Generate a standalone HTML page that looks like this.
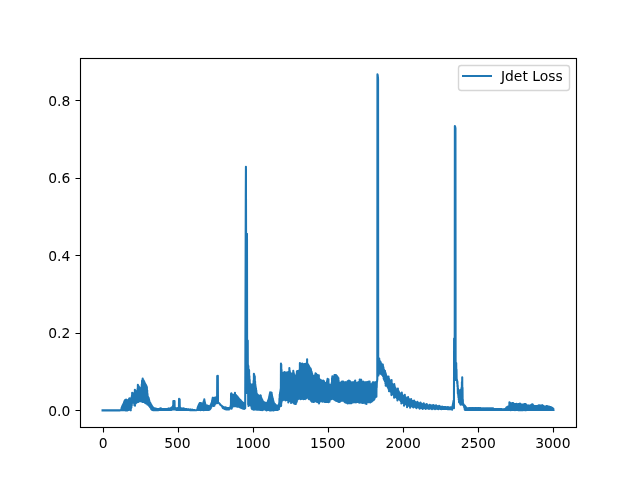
<!DOCTYPE html>
<html><head><meta charset="utf-8"><title>Jdet Loss</title>
<style>html,body{margin:0;padding:0;background:#fff;width:640px;height:480px;overflow:hidden}svg{display:block}text{filter:grayscale(1)}</style>
</head><body>
<svg width="640" height="480" viewBox="0 0 640 480">
<rect x="0" y="0" width="640" height="480" fill="#fff"/>
<clipPath id="c"><rect x="80" y="57.6" width="496" height="369.6"/></clipPath>
<path d="M102.55 410.40 L102.70 410.40 L102.85 410.40 L103.00 410.40 L103.15 410.40 L103.30 410.40 L103.45 410.40 L103.60 410.40 L103.75 410.40 L103.90 410.40 L104.05 410.40 L104.20 410.40 L104.35 410.40 L104.50 410.40 L104.65 410.40 L104.80 410.40 L104.95 410.40 L105.10 410.40 L105.25 410.40 L105.40 410.40 L105.55 410.40 L105.70 410.40 L105.85 410.40 L106.00 410.40 L106.15 410.40 L106.30 410.40 L106.45 410.40 L106.60 410.40 L106.75 410.40 L106.90 410.40 L107.05 410.40 L107.20 410.40 L107.36 410.40 L107.51 410.40 L107.66 410.40 L107.81 410.40 L107.96 410.40 L108.11 410.40 L108.26 410.40 L108.41 410.40 L108.56 410.40 L108.71 410.40 L108.86 410.40 L109.01 410.40 L109.16 410.40 L109.31 410.40 L109.46 410.40 L109.61 410.40 L109.76 410.40 L109.91 410.40 L110.06 410.40 L110.21 410.40 L110.36 410.40 L110.51 410.40 L110.66 410.40 L110.81 410.40 L110.96 410.40 L111.11 410.40 L111.26 410.40 L111.41 410.40 L111.56 410.40 L111.71 410.40 L111.86 410.40 L112.01 410.40 L112.16 410.40 L112.32 410.40 L112.47 410.40 L112.62 410.40 L112.77 410.40 L112.92 410.40 L113.07 410.40 L113.22 410.40 L113.37 410.40 L113.52 410.40 L113.67 410.40 L113.82 410.40 L113.97 410.40 L114.12 410.40 L114.27 410.40 L114.42 410.40 L114.57 410.40 L114.72 410.40 L114.87 410.40 L115.02 410.40 L115.17 410.40 L115.32 410.40 L115.47 410.40 L115.62 410.40 L115.77 410.40 L115.92 410.40 L116.07 410.40 L116.22 410.40 L116.37 410.40 L116.52 410.40 L116.67 410.40 L116.82 410.40 L116.97 410.40 L117.12 410.40 L117.28 410.40 L117.43 410.40 L117.58 410.40 L117.73 410.40 L117.88 410.40 L118.03 410.40 L118.18 410.40 L118.33 410.40 L118.48 410.40 L118.63 410.40 L118.78 410.40 L118.93 410.40 L119.08 410.40 L119.23 410.40 L119.38 410.40 L119.53 410.40 L119.68 410.40 L119.83 410.40 L119.98 410.38 L120.13 410.34 L120.28 410.30 L120.43 410.27 L120.58 410.24 L120.73 410.21 L120.88 410.16 L121.03 409.98 L121.18 410.16 L121.33 409.07 L121.48 410.16 L121.63 407.82 L121.78 410.16 L121.93 407.08 L122.08 410.15 L122.24 406.36 L122.39 410.07 L122.54 405.66 L122.69 410.10 L122.84 405.12 L122.99 410.17 L123.14 404.60 L123.29 410.06 L123.44 403.90 L123.59 410.15 L123.74 403.19 L123.89 410.23 L124.04 402.38 L124.19 410.09 L124.34 401.58 L124.49 409.90 L124.64 400.86 L124.79 410.20 L124.94 400.34 L125.09 410.24 L125.24 400.04 L125.39 410.34 L125.54 399.90 L125.69 410.06 L125.84 400.11 L125.99 410.40 L126.14 399.74 L126.29 410.40 L126.44 399.84 L126.59 410.40 L126.74 399.94 L126.89 410.40 L127.04 400.05 L127.20 410.36 L127.35 400.18 L127.50 410.40 L127.65 400.18 L127.80 410.29 L127.95 400.11 L128.10 410.00 L128.25 400.17 L128.40 410.06 L128.55 399.84 L128.70 409.79 L128.85 399.23 L129.00 409.89 L129.15 398.89 L129.30 409.84 L129.45 398.32 L129.60 409.42 L129.75 398.58 L129.90 409.60 L130.05 398.65 L130.20 409.84 L130.35 398.55 L130.50 409.80 L130.65 398.40 L130.80 410.35 L130.95 398.58 L131.10 408.25 L131.25 398.08 L131.40 407.46 L131.55 397.43 L131.70 405.76 L131.85 396.03 L132.00 403.99 L132.16 392.71 L132.31 402.93 L132.46 393.24 L132.61 402.49 L132.76 393.50 L132.91 402.61 L133.06 393.30 L133.21 402.50 L133.36 393.66 L133.51 402.29 L133.66 393.59 L133.81 402.60 L133.96 393.68 L134.11 402.66 L134.26 393.25 L134.41 405.35 L134.56 392.85 L134.71 405.28 L134.86 389.67 L135.01 405.74 L135.16 390.34 L135.31 403.91 L135.46 390.91 L135.61 403.19 L135.76 391.15 L135.91 403.33 L136.06 391.02 L136.21 402.98 L136.36 391.49 L136.51 402.64 L136.66 391.16 L136.81 401.97 L136.96 391.41 L137.12 401.21 L137.27 391.03 L137.42 401.20 L137.57 388.82 L137.72 401.35 L137.87 384.87 L138.02 401.62 L138.17 385.69 L138.32 401.92 L138.47 386.13 L138.62 401.59 L138.77 386.65 L138.92 401.10 L139.07 386.94 L139.22 400.77 L139.37 387.47 L139.52 400.88 L139.67 388.00 L139.82 401.03 L139.97 388.53 L140.12 401.33 L140.27 388.35 L140.42 400.97 L140.57 388.54 L140.72 401.14 L140.87 388.34 L141.02 401.18 L141.17 388.60 L141.32 401.30 L141.47 386.93 L141.62 401.43 L141.77 384.25 L141.92 401.57 L142.08 380.46 L142.23 401.58 L142.38 380.38 L142.53 401.98 L142.68 378.63 L142.83 401.87 L142.98 380.09 L143.13 401.64 L143.28 380.12 L143.43 401.64 L143.58 380.59 L143.73 401.68 L143.88 381.03 L144.03 401.73 L144.18 381.58 L144.33 401.94 L144.48 382.39 L144.63 402.34 L144.78 382.94 L144.93 402.86 L145.08 383.51 L145.23 402.91 L145.38 384.15 L145.53 403.14 L145.68 384.80 L145.83 403.01 L145.98 384.99 L146.13 403.47 L146.28 385.88 L146.43 403.54 L146.58 386.39 L146.73 403.31 L146.88 387.15 L147.04 403.92 L147.19 390.22 L147.34 404.45 L147.49 393.81 L147.64 404.39 L147.79 396.35 L147.94 404.65 L148.09 396.94 L148.24 405.00 L148.39 397.46 L148.54 405.13 L148.69 398.02 L148.84 405.70 L148.99 399.29 L149.14 406.04 L149.29 400.50 L149.44 406.30 L149.59 401.68 L149.74 406.79 L149.89 402.44 L150.04 407.13 L150.19 402.84 L150.34 407.56 L150.49 403.37 L150.64 407.95 L150.79 403.94 L150.94 408.52 L151.09 404.49 L151.24 409.15 L151.39 405.04 L151.54 409.54 L151.69 405.56 L151.84 409.71 L152.00 406.14 L152.15 409.88 L152.30 406.63 L152.45 410.01 L152.60 407.07 L152.75 410.06 L152.90 407.34 L153.05 410.11 L153.20 407.62 L153.35 410.16 L153.50 407.90 L153.65 410.16 L153.80 408.18 L153.95 410.16 L154.10 408.45 L154.25 410.16 L154.40 408.60 L154.55 410.16 L154.70 408.65 L154.85 410.16 L155.00 408.70 L155.15 410.16 L155.30 408.75 L155.45 410.16 L155.60 408.80 L155.75 410.16 L155.90 408.85 L156.05 410.16 L156.20 408.90 L156.35 410.16 L156.50 408.94 L156.65 410.16 L156.80 408.99 L156.96 410.16 L157.11 409.04 L157.26 410.16 L157.41 409.09 L157.56 410.16 L157.71 409.14 L157.86 410.15 L158.01 409.12 L158.16 410.12 L158.31 409.08 L158.46 410.10 L158.61 409.04 L158.76 410.07 L158.91 409.00 L159.06 410.04 L159.21 408.96 L159.36 410.01 L159.51 408.92 L159.66 409.99 L159.81 408.88 L159.96 409.96 L160.11 408.85 L160.26 409.96 L160.41 408.86 L160.56 409.96 L160.71 408.88 L160.86 409.96 L161.01 408.89 L161.16 409.96 L161.31 408.90 L161.46 409.96 L161.61 408.92 L161.76 409.96 L161.92 408.93 L162.07 409.96 L162.22 408.95 L162.37 409.96 L162.52 408.96 L162.67 409.96 L162.82 408.98 L162.97 409.96 L163.12 408.99 L163.27 409.96 L163.42 409.01 L163.57 409.96 L163.72 409.02 L163.87 409.96 L164.02 409.04 L164.17 409.96 L164.32 409.05 L164.47 409.96 L164.62 409.06 L164.77 409.96 L164.92 409.08 L165.07 409.96 L165.22 409.09 L165.37 409.96 L165.52 409.11 L165.67 409.96 L165.82 409.12 L165.97 409.96 L166.12 409.14 L166.27 409.96 L166.42 409.12 L166.57 409.96 L166.72 409.08 L166.88 409.96 L167.03 409.04 L167.18 409.96 L167.33 409.00 L167.48 409.96 L167.63 408.96 L167.78 409.96 L167.93 408.92 L168.08 409.96 L168.23 408.88 L168.38 409.96 L168.53 408.84 L168.68 409.96 L168.83 408.80 L168.98 409.96 L169.13 408.76 L169.28 409.96 L169.43 408.72 L169.58 409.96 L169.73 408.68 L169.88 409.96 L170.03 408.64 L170.18 409.90 L170.33 408.59 L170.48 409.86 L170.63 408.43 L170.78 409.86 L170.93 408.08 L171.08 409.86 L171.23 407.70 L171.38 409.86 L171.53 407.55 L171.68 409.79 L171.84 407.40 L171.99 409.60 L172.14 407.24 L172.29 409.48 L172.44 407.09 L172.59 409.46 L172.74 406.82 L172.89 409.46 L173.04 405.42 L173.19 409.46 L173.34 401.02 L173.49 409.26 L173.64 401.14 L173.79 409.39 L173.94 401.05 L174.09 409.16 L174.24 401.42 L174.39 409.30 L174.54 401.10 L174.69 409.46 L174.84 407.91 L174.99 409.46 L175.14 408.13 L175.29 409.46 L175.44 408.24 L175.59 409.54 L175.74 408.32 L175.89 409.72 L176.04 408.41 L176.19 409.86 L176.34 408.49 L176.49 409.86 L176.64 408.58 L176.80 409.86 L176.95 408.64 L177.10 409.86 L177.25 408.64 L177.40 409.86 L177.55 408.64 L177.70 409.86 L177.85 408.64 L178.00 409.86 L178.15 408.63 L178.30 409.86 L178.45 408.54 L178.60 409.86 L178.75 408.32 L178.90 409.86 L179.05 398.90 L179.20 409.73 L179.35 399.82 L179.50 409.28 L179.65 399.30 L179.80 409.83 L179.95 407.05 L180.10 409.86 L180.25 407.92 L180.40 409.86 L180.55 408.14 L180.70 409.86 L180.85 408.25 L181.00 409.86 L181.15 408.35 L181.30 409.88 L181.45 408.45 L181.60 409.91 L181.76 408.55 L181.91 409.93 L182.06 408.63 L182.21 409.96 L182.36 408.67 L182.51 409.96 L182.66 408.70 L182.81 409.97 L182.96 408.74 L183.11 409.97 L183.26 408.78 L183.41 409.98 L183.56 408.81 L183.71 409.98 L183.86 408.85 L184.01 409.99 L184.16 408.89 L184.31 409.99 L184.46 408.92 L184.61 409.99 L184.76 408.96 L184.91 410.00 L185.06 408.99 L185.21 410.00 L185.36 409.03 L185.51 410.01 L185.66 409.07 L185.81 410.01 L185.96 409.10 L186.11 410.02 L186.26 409.14 L186.41 410.02 L186.56 409.18 L186.72 410.02 L186.87 409.21 L187.02 410.03 L187.17 409.25 L187.32 410.03 L187.47 409.29 L187.62 410.04 L187.77 409.32 L187.92 410.04 L188.07 409.36 L188.22 410.05 L188.37 409.40 L188.52 410.05 L188.67 409.43 L188.82 410.05 L188.97 409.47 L189.12 410.06 L189.27 409.51 L189.42 410.06 L189.57 409.54 L189.72 410.07 L189.87 409.58 L190.02 410.07 L190.17 409.62 L190.32 410.08 L190.47 409.65 L190.62 410.08 L190.77 409.69 L190.92 410.08 L191.07 409.73 L191.22 410.09 L191.37 409.76 L191.52 410.09 L191.68 409.80 L191.83 410.10 L191.98 409.83 L192.13 410.10 L192.28 409.87 L192.43 410.11 L192.58 409.91 L192.73 410.11 L192.88 409.94 L193.03 410.11 L193.18 409.98 L193.33 410.12 L193.48 410.02 L193.63 410.12 L193.78 410.05 L193.93 410.13 L194.08 410.09 L194.23 410.13 L194.38 410.13 L194.53 410.14 L194.68 410.15 L194.83 410.16 L194.98 410.17 L195.13 410.18 L195.28 410.19 L195.43 410.20 L195.58 410.21 L195.73 410.22 L195.88 410.23 L196.03 410.24 L196.18 410.21 L196.33 410.18 L196.48 410.14 L196.64 410.10 L196.79 410.06 L196.94 410.00 L197.09 409.85 L197.24 409.96 L197.39 408.81 L197.54 409.96 L197.69 407.55 L197.84 409.96 L197.99 406.75 L198.14 409.94 L198.29 406.00 L198.44 409.96 L198.59 405.23 L198.74 410.00 L198.89 404.71 L199.04 410.01 L199.19 403.95 L199.34 409.96 L199.49 403.50 L199.64 410.04 L199.79 403.14 L199.94 410.08 L200.09 403.31 L200.24 410.00 L200.39 403.13 L200.54 410.17 L200.69 403.23 L200.84 410.04 L200.99 403.14 L201.14 409.98 L201.29 403.48 L201.44 409.92 L201.60 403.70 L201.75 409.98 L201.90 403.80 L202.05 409.78 L202.20 403.87 L202.35 409.95 L202.50 403.69 L202.65 410.01 L202.80 403.64 L202.95 409.91 L203.10 403.16 L203.25 409.95 L203.40 402.36 L203.55 410.33 L203.70 401.33 L203.85 410.17 L204.00 400.72 L204.15 410.06 L204.30 399.33 L204.45 409.57 L204.60 400.90 L204.75 409.84 L204.90 402.25 L205.05 409.97 L205.20 403.63 L205.35 409.83 L205.50 404.78 L205.65 409.95 L205.80 405.28 L205.95 409.89 L206.10 405.50 L206.25 409.91 L206.40 405.54 L206.56 409.99 L206.71 405.63 L206.86 409.91 L207.01 405.68 L207.16 409.95 L207.31 405.71 L207.46 409.94 L207.61 405.80 L207.76 409.89 L207.91 405.88 L208.06 409.97 L208.21 405.97 L208.36 409.98 L208.51 406.03 L208.66 409.97 L208.81 406.14 L208.96 409.93 L209.11 406.31 L209.26 409.76 L209.41 406.33 L209.56 409.55 L209.71 406.30 L209.86 409.36 L210.01 406.15 L210.16 409.09 L210.31 405.80 L210.46 408.65 L210.61 405.13 L210.76 408.21 L210.91 404.42 L211.06 407.63 L211.21 403.71 L211.36 407.05 L211.52 402.95 L211.67 406.52 L211.82 402.20 L211.97 406.07 L212.12 400.50 L212.27 405.80 L212.42 399.11 L212.57 405.79 L212.72 397.73 L212.87 405.51 L213.02 397.76 L213.17 405.84 L213.32 397.94 L213.47 405.70 L213.62 397.97 L213.77 405.94 L213.92 398.00 L214.07 405.84 L214.22 398.07 L214.37 405.68 L214.52 397.90 L214.67 405.02 L214.82 397.86 L214.97 404.36 L215.12 398.00 L215.27 403.73 L215.42 397.64 L215.57 403.23 L215.72 397.54 L215.87 403.13 L216.02 397.32 L216.17 403.09 L216.32 397.31 L216.48 403.02 L216.63 397.34 L216.78 402.99 L216.93 397.00 L217.08 403.30 L217.23 375.97 L217.38 375.94 L217.53 383.70 L217.68 402.47 L217.83 375.69 L217.98 402.37 L218.13 402.23 L218.28 402.44 L218.43 402.61 L218.58 402.79 L218.73 402.97 L218.88 403.11 L219.03 403.21 L219.18 403.31 L219.33 403.44 L219.48 403.58 L219.63 403.77 L219.78 403.97 L219.93 404.17 L220.08 404.37 L220.23 404.57 L220.38 404.76 L220.53 404.92 L220.68 405.04 L220.83 405.16 L220.98 405.28 L221.13 405.40 L221.28 405.52 L221.44 405.64 L221.59 405.76 L221.74 405.88 L221.89 406.06 L222.04 406.23 L222.19 406.63 L222.34 406.38 L222.49 407.31 L222.64 406.53 L222.79 407.99 L222.94 406.68 L223.09 408.17 L223.24 406.83 L223.39 408.25 L223.54 406.98 L223.69 408.34 L223.84 407.13 L223.99 408.50 L224.14 407.28 L224.29 408.67 L224.44 407.36 L224.59 408.85 L224.74 407.43 L224.89 409.02 L225.04 407.51 L225.19 409.10 L225.34 407.58 L225.49 409.18 L225.64 407.66 L225.79 409.25 L225.94 407.73 L226.09 409.33 L226.24 407.81 L226.40 409.40 L226.55 407.88 L226.70 409.48 L226.85 407.94 L227.00 409.55 L227.15 407.94 L227.30 409.56 L227.45 407.94 L227.60 409.56 L227.75 407.94 L227.90 409.56 L228.05 407.94 L228.20 409.56 L228.35 407.94 L228.50 409.56 L228.65 407.94 L228.80 409.56 L228.95 407.94 L229.10 409.40 L229.25 407.94 L229.40 408.78 L229.55 407.91 L229.70 408.45 L229.85 407.78 L230.00 408.30 L230.15 407.50 L230.30 408.26 L230.45 406.56 L230.60 408.26 L230.75 405.31 L230.90 408.25 L231.05 393.71 L231.20 408.51 L231.36 393.38 L231.51 408.64 L231.66 394.52 L231.81 408.47 L231.96 394.34 L232.11 407.52 L232.26 394.94 L232.41 407.08 L232.56 394.59 L232.71 406.60 L232.86 395.02 L233.01 406.40 L233.16 395.17 L233.31 406.24 L233.46 394.94 L233.61 406.25 L233.76 395.16 L233.91 405.93 L234.06 394.62 L234.21 406.18 L234.36 394.69 L234.51 405.93 L234.66 394.47 L234.81 405.99 L234.96 392.83 L235.11 405.92 L235.26 394.84 L235.41 406.27 L235.56 394.88 L235.71 406.31 L235.86 395.15 L236.01 406.12 L236.16 395.26 L236.32 406.10 L236.47 395.75 L236.62 406.46 L236.77 396.00 L236.92 406.61 L237.07 396.38 L237.22 406.74 L237.37 396.54 L237.52 406.39 L237.67 397.34 L237.82 406.51 L237.97 397.29 L238.12 406.53 L238.27 397.86 L238.42 406.67 L238.57 398.31 L238.72 406.81 L238.87 398.56 L239.02 406.82 L239.17 398.98 L239.32 407.05 L239.47 399.19 L239.62 407.20 L239.77 399.66 L239.92 407.18 L240.07 399.77 L240.22 407.51 L240.37 400.13 L240.52 407.55 L240.67 400.40 L240.82 407.68 L240.97 400.74 L241.12 407.89 L241.28 401.21 L241.43 408.00 L241.58 401.42 L241.73 408.02 L241.88 401.84 L242.03 408.19 L242.18 401.99 L242.33 408.48 L242.48 402.35 L242.63 408.44 L242.78 402.46 L242.93 408.53 L243.08 402.88 L243.23 408.65 L243.38 403.07 L243.53 408.71 L243.68 403.42 L243.83 408.76 L243.98 403.66 L244.13 409.00 L244.28 403.73 L244.43 407.62 L244.58 403.72 L244.73 406.95 L244.88 403.62 L245.03 408.00 L245.18 408.30 L245.33 371.65 L245.48 313.51 L245.63 255.38 L245.78 197.25 L245.93 166.83 L246.08 236.01 L246.24 393.00 L246.39 390.00 L246.54 393.00 L246.69 390.00 L246.84 392.00 L246.99 233.82 L247.14 372.00 L247.29 388.00 L247.44 364.49 L247.59 388.00 L247.74 340.49 L247.89 390.00 L248.04 364.99 L248.19 404.50 L248.34 366.00 L248.49 406.00 L248.64 404.31 L248.79 369.47 L248.94 404.67 L249.09 370.15 L249.24 404.93 L249.39 376.05 L249.54 405.20 L249.69 379.81 L249.84 405.28 L249.99 383.37 L250.14 404.90 L250.29 383.89 L250.44 404.86 L250.59 384.12 L250.74 404.64 L250.89 384.47 L251.04 405.60 L251.20 384.53 L251.35 406.88 L251.50 384.79 L251.65 408.27 L251.80 385.42 L251.95 409.03 L252.10 385.56 L252.25 409.29 L252.40 385.00 L252.55 409.19 L252.70 384.67 L252.85 409.26 L253.00 384.07 L253.15 409.23 L253.30 383.72 L253.45 409.33 L253.60 380.70 L253.75 409.79 L253.90 373.86 L254.05 409.79 L254.20 374.71 L254.35 409.39 L254.50 375.68 L254.65 409.35 L254.80 376.62 L254.95 409.55 L255.10 381.48 L255.25 409.37 L255.40 384.74 L255.55 409.37 L255.70 386.89 L255.85 409.39 L256.00 388.48 L256.16 409.18 L256.31 390.51 L256.46 409.16 L256.61 393.10 L256.76 409.67 L256.91 394.28 L257.06 409.55 L257.21 394.77 L257.36 409.58 L257.51 395.10 L257.66 409.75 L257.81 394.85 L257.96 409.50 L258.11 395.31 L258.26 409.42 L258.41 395.60 L258.56 409.60 L258.71 395.69 L258.86 409.81 L259.01 396.25 L259.16 409.52 L259.31 396.27 L259.46 409.74 L259.61 396.28 L259.76 409.73 L259.91 395.54 L260.06 409.90 L260.21 395.63 L260.36 410.00 L260.51 395.41 L260.66 409.96 L260.81 395.82 L260.96 409.71 L261.12 397.56 L261.27 409.78 L261.42 398.15 L261.57 409.79 L261.72 399.01 L261.87 410.03 L262.02 399.41 L262.17 410.15 L262.32 400.02 L262.47 409.83 L262.62 400.48 L262.77 409.92 L262.92 401.22 L263.07 409.65 L263.22 401.67 L263.37 409.63 L263.52 402.35 L263.67 409.56 L263.82 402.32 L263.97 409.44 L264.12 402.50 L264.27 409.54 L264.42 402.32 L264.57 409.36 L264.72 402.45 L264.87 409.37 L265.02 402.65 L265.17 409.56 L265.32 402.85 L265.47 409.73 L265.62 402.89 L265.77 409.75 L265.92 402.94 L266.08 410.11 L266.23 403.15 L266.38 410.02 L266.53 403.07 L266.68 410.40 L266.83 402.97 L266.98 410.20 L267.13 402.99 L267.28 409.99 L267.43 402.40 L267.58 409.84 L267.73 401.88 L267.88 409.61 L268.03 400.89 L268.18 409.75 L268.33 399.94 L268.48 409.85 L268.63 399.24 L268.78 409.89 L268.93 398.10 L269.08 410.06 L269.23 396.60 L269.38 409.75 L269.53 395.03 L269.68 410.40 L269.83 393.73 L269.98 410.40 L270.13 392.38 L270.28 410.16 L270.43 392.69 L270.58 410.26 L270.73 392.42 L270.88 410.27 L271.04 392.70 L271.19 410.40 L271.34 392.58 L271.49 410.03 L271.64 392.80 L271.79 409.65 L271.94 394.80 L272.09 409.81 L272.24 396.46 L272.39 410.00 L272.54 397.68 L272.69 410.06 L272.84 398.63 L272.99 410.40 L273.14 400.12 L273.29 410.40 L273.44 401.21 L273.59 410.40 L273.74 402.18 L273.89 410.34 L274.04 403.17 L274.19 410.28 L274.34 403.44 L274.49 410.04 L274.64 403.74 L274.79 410.07 L274.94 404.12 L275.09 409.94 L275.24 404.42 L275.39 410.02 L275.54 404.87 L275.69 410.06 L275.84 405.12 L276.00 410.01 L276.15 405.46 L276.30 410.01 L276.45 405.60 L276.60 410.03 L276.75 405.67 L276.90 410.04 L277.05 405.72 L277.20 410.02 L277.35 405.75 L277.50 409.97 L277.65 405.73 L277.80 409.86 L277.95 405.80 L278.10 409.60 L278.25 405.74 L278.40 409.43 L278.55 405.65 L278.70 409.28 L278.85 405.35 L279.00 409.23 L279.15 403.10 L279.30 407.25 L279.45 398.46 L279.60 406.85 L279.75 394.47 L279.90 406.57 L280.05 392.72 L280.20 406.11 L280.35 391.01 L280.50 405.83 L280.65 389.08 L280.80 405.86 L280.96 363.51 L281.11 405.93 L281.26 364.58 L281.41 403.11 L281.56 369.85 L281.71 401.61 L281.86 372.75 L282.01 400.82 L282.16 373.39 L282.31 400.21 L282.46 373.71 L282.61 400.32 L282.76 373.75 L282.91 400.19 L283.06 373.22 L283.21 400.01 L283.36 373.20 L283.51 399.65 L283.66 372.62 L283.81 399.38 L283.96 372.62 L284.11 399.22 L284.26 372.36 L284.41 399.22 L284.56 372.14 L284.71 399.69 L284.86 372.74 L285.01 399.92 L285.16 372.55 L285.31 399.97 L285.46 373.04 L285.61 400.41 L285.76 373.19 L285.92 400.29 L286.07 372.90 L286.22 399.95 L286.37 372.74 L286.52 399.72 L286.67 372.80 L286.82 399.62 L286.97 372.79 L287.12 400.03 L287.27 372.63 L287.42 399.93 L287.57 372.28 L287.72 400.37 L287.87 372.59 L288.02 400.80 L288.17 372.18 L288.32 402.37 L288.47 372.38 L288.62 401.27 L288.77 372.70 L288.92 400.77 L289.07 372.35 L289.22 400.65 L289.37 368.04 L289.52 400.65 L289.67 370.43 L289.82 400.88 L289.97 372.06 L290.12 400.99 L290.27 372.48 L290.42 401.38 L290.57 372.94 L290.72 401.95 L290.88 373.20 L291.03 402.98 L291.18 373.83 L291.33 402.07 L291.48 374.35 L291.63 402.35 L291.78 374.35 L291.93 402.34 L292.08 374.19 L292.23 402.25 L292.38 374.27 L292.53 402.15 L292.68 373.72 L292.83 401.92 L292.98 373.02 L293.13 401.97 L293.28 370.76 L293.43 402.68 L293.58 372.19 L293.73 402.79 L293.88 373.57 L294.03 403.58 L294.18 374.69 L294.33 403.66 L294.48 375.45 L294.63 403.68 L294.78 376.14 L294.93 403.85 L295.08 376.35 L295.23 403.53 L295.38 375.93 L295.53 403.99 L295.68 376.31 L295.84 403.89 L295.99 375.65 L296.14 402.89 L296.29 375.21 L296.44 402.59 L296.59 373.91 L296.74 401.71 L296.89 371.36 L297.04 401.06 L297.19 371.56 L297.34 400.07 L297.49 371.35 L297.64 399.27 L297.79 371.09 L297.94 398.95 L298.09 371.06 L298.24 398.92 L298.39 371.48 L298.54 398.51 L298.69 371.73 L298.84 398.50 L298.99 371.63 L299.14 398.24 L299.29 371.24 L299.44 398.37 L299.59 369.62 L299.74 398.37 L299.89 363.05 L300.04 398.72 L300.19 364.01 L300.34 399.17 L300.49 363.62 L300.64 399.00 L300.80 364.07 L300.95 398.90 L301.10 364.19 L301.25 398.87 L301.40 364.27 L301.55 398.84 L301.70 363.79 L301.85 398.50 L302.00 363.97 L302.15 398.34 L302.30 363.60 L302.45 398.28 L302.60 363.67 L302.75 398.61 L302.90 363.98 L303.05 398.73 L303.20 364.31 L303.35 399.25 L303.50 364.32 L303.65 398.95 L303.80 364.44 L303.95 399.01 L304.10 364.29 L304.25 398.88 L304.40 364.15 L304.55 398.35 L304.70 364.40 L304.85 398.95 L305.00 364.33 L305.15 399.09 L305.30 364.31 L305.45 398.76 L305.60 363.85 L305.76 398.58 L305.91 364.06 L306.06 398.42 L306.21 364.18 L306.36 398.06 L306.51 363.76 L306.66 397.92 L306.81 363.27 L306.96 397.76 L307.11 359.36 L307.26 397.40 L307.41 363.72 L307.56 397.08 L307.71 364.02 L307.86 397.14 L308.01 364.48 L308.16 397.44 L308.31 365.06 L308.46 398.03 L308.61 365.45 L308.76 398.96 L308.91 366.01 L309.06 399.21 L309.21 366.45 L309.36 399.11 L309.51 367.29 L309.66 398.78 L309.81 367.95 L309.96 398.91 L310.11 368.07 L310.26 399.33 L310.41 368.31 L310.56 399.71 L310.72 368.69 L310.87 400.45 L311.02 369.88 L311.17 400.95 L311.32 371.19 L311.47 401.24 L311.62 371.87 L311.77 401.75 L311.92 372.96 L312.07 401.61 L312.22 374.02 L312.37 401.76 L312.52 375.37 L312.67 401.76 L312.82 376.10 L312.97 401.84 L313.12 376.00 L313.27 401.92 L313.42 376.13 L313.57 401.95 L313.72 376.01 L313.87 401.67 L314.02 375.89 L314.17 401.85 L314.32 375.76 L314.47 401.53 L314.62 375.95 L314.77 401.15 L314.92 375.53 L315.07 400.72 L315.22 375.10 L315.37 400.71 L315.52 373.34 L315.68 400.99 L315.83 373.72 L315.98 401.11 L316.13 373.83 L316.28 401.29 L316.43 374.35 L316.58 401.76 L316.73 374.90 L316.88 401.86 L317.03 375.36 L317.18 401.60 L317.33 375.24 L317.48 402.01 L317.63 375.41 L317.78 401.75 L317.93 375.35 L318.08 401.71 L318.23 375.50 L318.38 402.40 L318.53 376.27 L318.68 402.63 L318.83 375.27 L318.98 403.45 L319.13 379.84 L319.28 401.76 L319.43 380.26 L319.58 401.87 L319.73 379.98 L319.88 401.21 L320.03 379.67 L320.18 401.25 L320.33 379.67 L320.48 400.95 L320.64 380.07 L320.79 401.09 L320.94 380.20 L321.09 400.71 L321.24 380.31 L321.39 400.77 L321.54 380.58 L321.69 400.82 L321.84 380.77 L321.99 400.96 L322.14 380.84 L322.29 401.72 L322.44 381.14 L322.59 401.49 L322.74 380.81 L322.89 401.31 L323.04 381.00 L323.19 400.96 L323.34 380.77 L323.49 401.07 L323.64 380.68 L323.79 401.13 L323.94 381.24 L324.09 401.57 L324.24 382.07 L324.39 401.80 L324.54 383.19 L324.69 401.99 L324.84 383.48 L324.99 401.80 L325.14 383.64 L325.29 402.01 L325.44 383.31 L325.60 401.58 L325.75 383.12 L325.90 401.49 L326.05 383.61 L326.20 401.87 L326.35 383.71 L326.50 401.81 L326.65 383.14 L326.80 401.75 L326.95 381.61 L327.10 401.94 L327.25 380.28 L327.40 401.82 L327.55 378.91 L327.70 401.95 L327.85 379.11 L328.00 401.97 L328.15 379.21 L328.30 401.89 L328.45 379.22 L328.60 402.29 L328.75 383.75 L328.90 401.97 L329.05 384.80 L329.20 401.83 L329.35 384.75 L329.50 401.63 L329.65 384.92 L329.80 400.71 L329.95 385.23 L330.10 399.53 L330.25 384.73 L330.40 399.22 L330.56 384.94 L330.71 399.33 L330.86 384.71 L331.01 398.90 L331.16 384.79 L331.31 399.15 L331.46 384.64 L331.61 398.72 L331.76 382.68 L331.91 398.80 L332.06 378.10 L332.21 398.77 L332.36 376.27 L332.51 398.49 L332.66 376.98 L332.81 398.56 L332.96 376.54 L333.11 398.95 L333.26 376.95 L333.41 398.84 L333.56 376.70 L333.71 399.31 L333.86 376.75 L334.01 399.47 L334.16 376.59 L334.31 399.81 L334.46 374.93 L334.61 399.51 L334.76 375.52 L334.91 400.06 L335.06 375.09 L335.21 400.10 L335.36 375.25 L335.52 400.38 L335.67 375.37 L335.82 400.67 L335.97 375.33 L336.12 400.82 L336.27 375.40 L336.42 400.85 L336.57 375.87 L336.72 400.61 L336.87 376.41 L337.02 400.66 L337.17 376.31 L337.32 401.03 L337.47 376.91 L337.62 401.17 L337.77 377.31 L337.92 401.59 L338.07 378.09 L338.22 401.69 L338.37 377.94 L338.52 401.69 L338.67 380.85 L338.82 401.90 L338.97 382.59 L339.12 402.02 L339.27 383.28 L339.42 401.98 L339.57 383.29 L339.72 401.83 L339.87 383.27 L340.02 401.63 L340.17 383.11 L340.32 401.16 L340.48 383.07 L340.63 401.00 L340.78 382.93 L340.93 400.91 L341.08 382.47 L341.23 400.27 L341.38 382.02 L341.53 400.23 L341.68 381.82 L341.83 400.57 L341.98 381.74 L342.13 400.70 L342.28 381.80 L342.43 400.64 L342.58 381.83 L342.73 400.35 L342.88 381.71 L343.03 400.42 L343.18 381.50 L343.33 400.17 L343.48 381.80 L343.63 400.04 L343.78 382.22 L343.93 400.85 L344.08 382.50 L344.23 401.13 L344.38 382.53 L344.53 401.94 L344.68 382.58 L344.83 402.24 L344.98 382.61 L345.13 402.11 L345.28 382.23 L345.44 402.40 L345.59 382.38 L345.74 402.59 L345.89 382.61 L346.04 402.60 L346.19 382.50 L346.34 402.81 L346.49 382.59 L346.64 402.84 L346.79 382.19 L346.94 402.92 L347.09 381.93 L347.24 403.22 L347.39 381.49 L347.54 403.46 L347.69 381.39 L347.84 403.16 L347.99 381.18 L348.14 402.98 L348.29 381.17 L348.44 403.25 L348.59 380.72 L348.74 403.29 L348.89 380.57 L349.04 403.06 L349.19 380.78 L349.34 403.33 L349.49 381.17 L349.64 403.00 L349.79 381.11 L349.94 403.12 L350.09 381.37 L350.24 403.04 L350.40 381.88 L350.55 402.80 L350.70 381.93 L350.85 403.06 L351.00 382.37 L351.15 403.10 L351.30 382.40 L351.45 403.17 L351.60 382.48 L351.75 402.91 L351.90 382.74 L352.05 402.27 L352.20 382.51 L352.35 402.47 L352.50 382.78 L352.65 402.17 L352.80 382.28 L352.95 401.62 L353.10 382.36 L353.25 401.54 L353.40 382.46 L353.55 401.74 L353.70 382.80 L353.85 402.36 L354.00 382.77 L354.15 402.20 L354.30 382.48 L354.45 402.02 L354.60 381.73 L354.75 401.53 L354.90 381.01 L355.05 401.61 L355.20 380.49 L355.36 401.59 L355.51 382.07 L355.66 402.14 L355.81 382.79 L355.96 402.37 L356.11 383.05 L356.26 402.08 L356.41 382.97 L356.56 401.82 L356.71 382.99 L356.86 401.89 L357.01 383.11 L357.16 401.77 L357.31 382.79 L357.46 401.57 L357.61 382.53 L357.76 401.79 L357.91 382.53 L358.06 401.67 L358.21 382.54 L358.36 402.04 L358.51 382.29 L358.66 402.23 L358.81 382.49 L358.96 402.04 L359.11 382.35 L359.26 402.69 L359.41 381.80 L359.56 402.20 L359.71 379.50 L359.86 402.25 L360.01 380.08 L360.16 402.46 L360.32 379.68 L360.47 402.45 L360.62 380.26 L360.77 402.21 L360.92 379.82 L361.07 402.58 L361.22 379.90 L361.37 402.54 L361.52 380.73 L361.67 402.62 L361.82 381.77 L361.97 402.66 L362.12 382.32 L362.27 402.67 L362.42 382.59 L362.57 402.92 L362.72 382.47 L362.87 402.90 L363.02 382.33 L363.17 402.99 L363.32 381.80 L363.47 402.86 L363.62 381.81 L363.77 402.71 L363.92 382.28 L364.07 402.65 L364.22 382.67 L364.37 402.76 L364.52 382.81 L364.67 402.71 L364.82 382.91 L364.97 402.99 L365.12 382.47 L365.28 403.37 L365.43 382.60 L365.58 403.04 L365.73 382.53 L365.88 403.47 L366.03 382.45 L366.18 403.23 L366.33 382.47 L366.48 403.98 L366.63 382.30 L366.78 402.39 L366.93 382.40 L367.08 401.86 L367.23 382.50 L367.38 402.09 L367.53 382.58 L367.68 402.02 L367.83 382.57 L367.98 402.11 L368.13 381.87 L368.28 402.10 L368.43 382.13 L368.58 402.19 L368.73 381.88 L368.88 402.18 L369.03 381.75 L369.18 401.96 L369.33 381.89 L369.48 402.25 L369.63 381.47 L369.78 402.26 L369.93 383.61 L370.08 402.26 L370.24 384.06 L370.39 402.45 L370.54 383.97 L370.69 402.33 L370.84 384.38 L370.99 401.93 L371.14 384.27 L371.29 401.75 L371.44 384.25 L371.59 401.79 L371.74 384.27 L371.89 401.51 L372.04 384.20 L372.19 401.30 L372.34 383.38 L372.49 400.91 L372.64 382.79 L372.79 400.59 L372.94 382.33 L373.09 400.00 L373.24 382.35 L373.39 399.79 L373.54 382.50 L373.69 399.89 L373.84 382.58 L373.99 399.77 L374.14 382.72 L374.29 399.60 L374.44 382.59 L374.59 398.69 L374.74 382.62 L374.89 398.04 L375.04 382.64 L375.20 397.19 L375.35 382.41 L375.50 397.16 L375.65 382.38 L375.80 397.01 L375.95 382.51 L376.10 396.39 L376.25 382.08 L376.40 396.64 L376.55 381.95 L376.70 387.47 L376.85 381.84 L377.00 382.01 L377.15 380.48 L377.30 379.07 L377.45 74.40 L377.60 74.79 L377.75 75.56 L377.90 77.11 L378.05 79.05 L378.20 357.49 L378.35 375.53 L378.50 374.17 L378.65 372.83 L378.80 372.60 L378.95 367.67 L379.10 372.90 L379.25 358.66 L379.40 373.15 L379.55 360.99 L379.70 373.29 L379.85 361.14 L380.00 373.23 L380.16 361.52 L380.31 373.66 L380.46 361.88 L380.61 373.81 L380.76 362.67 L380.91 373.61 L381.06 363.34 L381.21 373.83 L381.36 363.60 L381.51 374.27 L381.66 364.35 L381.81 374.17 L381.96 364.87 L382.11 374.87 L382.26 365.56 L382.41 374.94 L382.56 365.64 L382.71 375.59 L382.86 364.64 L383.01 376.32 L383.16 366.61 L383.31 376.82 L383.46 367.63 L383.61 378.31 L383.76 369.17 L383.91 379.45 L384.06 370.33 L384.21 380.07 L384.36 372.12 L384.51 380.24 L384.66 372.89 L384.81 381.31 L384.96 370.69 L385.12 382.06 L385.27 372.18 L385.42 383.50 L385.57 373.16 L385.72 385.75 L385.87 374.13 L386.02 383.39 L386.17 375.18 L386.32 383.53 L386.47 375.84 L386.62 384.04 L386.77 376.69 L386.92 384.77 L387.07 377.51 L387.22 385.74 L387.37 378.35 L387.52 386.66 L387.67 379.06 L387.82 387.60 L387.97 379.05 L388.12 387.94 L388.27 378.90 L388.42 388.58 L388.57 376.43 L388.72 389.44 L388.87 378.81 L389.02 391.13 L389.17 379.15 L389.32 389.22 L389.47 380.02 L389.62 389.99 L389.77 380.58 L389.92 390.50 L390.08 381.37 L390.23 391.02 L390.38 381.88 L390.53 391.25 L390.68 382.62 L390.83 391.64 L390.98 383.09 L391.13 392.97 L391.28 383.21 L391.43 395.10 L391.58 379.99 L391.73 392.37 L391.88 383.27 L392.03 392.37 L392.18 383.80 L392.33 392.62 L392.48 384.44 L392.63 393.14 L392.78 385.38 L392.93 393.93 L393.08 385.90 L393.23 394.52 L393.38 386.33 L393.53 395.01 L393.68 386.41 L393.83 395.84 L393.98 386.78 L394.13 397.73 L394.28 384.16 L394.43 394.98 L394.58 385.88 L394.73 395.16 L394.88 387.13 L395.04 395.10 L395.19 387.68 L395.34 395.80 L395.49 388.15 L395.64 396.34 L395.79 388.91 L395.94 396.96 L396.09 389.21 L396.24 397.33 L396.39 389.95 L396.54 397.90 L396.69 390.31 L396.84 398.13 L396.99 390.68 L397.14 397.87 L397.29 390.93 L397.44 400.46 L397.59 391.22 L397.74 397.85 L397.89 388.48 L398.04 398.03 L398.19 391.05 L398.34 398.03 L398.49 391.04 L398.64 398.39 L398.79 391.46 L398.94 398.66 L399.09 392.25 L399.24 399.29 L399.39 392.76 L399.54 399.55 L399.69 393.14 L399.84 400.03 L400.00 393.45 L400.15 400.18 L400.30 393.88 L400.45 400.74 L400.60 394.57 L400.75 401.29 L400.90 395.07 L401.05 401.88 L401.20 395.24 L401.35 403.44 L401.50 395.37 L401.65 400.94 L401.80 392.57 L401.95 400.95 L402.10 394.35 L402.25 401.27 L402.40 395.10 L402.55 401.60 L402.70 395.50 L402.85 402.13 L403.00 395.84 L403.15 402.76 L403.30 396.46 L403.45 403.19 L403.60 396.93 L403.75 403.61 L403.90 397.13 L404.05 405.73 L404.20 397.50 L404.35 403.17 L404.50 397.52 L404.65 403.01 L404.80 394.85 L404.96 403.05 L405.11 397.33 L405.26 403.16 L405.41 397.07 L405.56 403.61 L405.71 397.35 L405.86 404.04 L406.01 397.68 L406.16 404.55 L406.31 397.97 L406.46 405.08 L406.61 398.10 L406.76 405.27 L406.91 398.62 L407.06 407.17 L407.21 398.86 L407.36 405.00 L407.51 399.09 L407.66 404.87 L407.81 399.00 L407.96 404.98 L408.11 396.96 L408.26 405.09 L408.41 398.55 L408.56 405.34 L408.71 398.67 L408.86 405.71 L409.01 399.00 L409.16 405.67 L409.31 399.43 L409.46 405.99 L409.61 399.92 L409.76 406.24 L409.92 400.28 L410.07 407.66 L410.22 400.58 L410.37 405.72 L410.52 400.75 L410.67 405.60 L410.82 400.72 L410.97 405.54 L411.12 399.10 L411.27 405.78 L411.42 400.51 L411.57 405.97 L411.72 400.46 L411.87 406.17 L412.02 400.73 L412.17 406.43 L412.32 400.84 L412.47 406.63 L412.62 401.25 L412.77 406.91 L412.92 401.49 L413.07 406.67 L413.22 401.64 L413.37 407.58 L413.52 401.70 L413.67 406.24 L413.82 401.75 L413.97 406.17 L414.12 400.63 L414.27 406.26 L414.42 401.64 L414.57 406.43 L414.72 401.63 L414.88 406.74 L415.03 401.81 L415.18 406.90 L415.33 402.02 L415.48 407.05 L415.63 402.28 L415.78 407.14 L415.93 402.48 L416.08 407.34 L416.23 402.61 L416.38 408.15 L416.53 402.83 L416.68 406.88 L416.83 402.96 L416.98 406.87 L417.13 402.96 L417.28 406.90 L417.43 401.67 L417.58 407.06 L417.73 402.62 L417.88 407.22 L418.03 402.75 L418.18 407.34 L418.33 402.93 L418.48 407.49 L418.63 403.16 L418.78 407.71 L418.93 403.23 L419.08 407.88 L419.23 403.45 L419.38 407.86 L419.53 403.58 L419.68 408.67 L419.84 403.68 L419.99 407.56 L420.14 403.68 L420.29 407.54 L420.44 402.65 L420.59 407.62 L420.74 403.50 L420.89 407.77 L421.04 403.36 L421.19 407.85 L421.34 403.57 L421.49 407.94 L421.64 403.79 L421.79 408.09 L421.94 403.92 L422.09 408.21 L422.24 404.03 L422.39 408.07 L422.54 404.19 L422.69 408.88 L422.84 404.33 L422.99 407.81 L423.14 404.41 L423.29 407.79 L423.44 404.36 L423.59 407.88 L423.74 403.25 L423.89 408.00 L424.04 404.09 L424.19 408.08 L424.34 404.21 L424.49 408.11 L424.64 404.41 L424.80 408.25 L424.95 404.58 L425.10 408.33 L425.25 404.76 L425.40 408.38 L425.55 404.91 L425.70 408.99 L425.85 405.06 L426.00 407.93 L426.15 405.15 L426.30 407.89 L426.45 405.15 L426.60 407.93 L426.75 404.15 L426.90 408.03 L427.05 404.84 L427.20 408.14 L427.35 404.95 L427.50 408.25 L427.65 405.10 L427.80 408.36 L427.95 405.22 L428.10 408.47 L428.25 405.32 L428.40 408.58 L428.55 405.43 L428.70 408.36 L428.85 405.54 L429.00 409.01 L429.15 405.63 L429.30 408.09 L429.45 405.66 L429.60 408.11 L429.76 404.76 L429.91 408.20 L430.06 405.42 L430.21 408.29 L430.36 405.23 L430.51 408.38 L430.66 405.33 L430.81 408.47 L430.96 405.43 L431.11 408.57 L431.26 405.52 L431.41 408.66 L431.56 405.62 L431.71 408.61 L431.86 405.72 L432.01 409.14 L432.16 405.82 L432.31 408.26 L432.46 405.87 L432.61 408.25 L432.76 405.83 L432.91 408.32 L433.06 404.94 L433.21 408.41 L433.36 405.44 L433.51 408.50 L433.66 405.54 L433.81 408.59 L433.96 405.63 L434.11 408.67 L434.26 405.73 L434.41 408.76 L434.56 405.82 L434.72 408.84 L434.87 405.91 L435.02 409.28 L435.17 406.00 L435.32 408.44 L435.47 406.07 L435.62 408.41 L435.77 406.06 L435.92 408.45 L436.07 405.27 L436.22 408.53 L436.37 405.77 L436.52 408.61 L436.67 405.89 L436.82 408.68 L436.97 406.01 L437.12 408.76 L437.27 406.13 L437.42 408.83 L437.57 406.24 L437.72 408.90 L437.87 406.36 L438.02 408.77 L438.17 406.47 L438.32 409.21 L438.47 406.57 L438.62 408.52 L438.77 406.59 L438.92 408.54 L439.07 405.90 L439.22 408.61 L439.37 406.34 L439.52 408.68 L439.68 406.42 L439.83 408.75 L439.98 406.53 L440.13 408.82 L440.28 406.64 L440.43 408.88 L440.58 406.74 L440.73 408.95 L440.88 406.83 L441.03 409.00 L441.18 406.93 L441.33 409.24 L441.48 407.01 L441.63 408.70 L441.78 407.06 L441.93 408.69 L442.08 406.58 L442.23 408.75 L442.38 406.88 L442.53 408.81 L442.68 406.97 L442.83 408.86 L442.98 407.06 L443.13 408.91 L443.28 407.14 L443.43 408.95 L443.58 407.22 L443.73 408.98 L443.88 407.29 L444.03 409.01 L444.18 407.33 L444.33 409.04 L444.48 407.37 L444.64 408.93 L444.79 407.40 L444.94 408.90 L445.09 407.39 L445.24 408.93 L445.39 407.33 L445.54 408.97 L445.69 407.37 L445.84 409.00 L445.99 407.41 L446.14 409.02 L446.29 407.45 L446.44 409.04 L446.59 407.48 L446.74 409.05 L446.89 407.50 L447.04 409.06 L447.19 407.53 L447.34 409.07 L447.49 407.55 L447.64 409.08 L447.79 407.58 L447.94 409.09 L448.09 407.61 L448.24 409.10 L448.39 407.63 L448.54 409.11 L448.69 407.66 L448.84 409.12 L448.99 407.69 L449.14 409.13 L449.29 407.71 L449.44 409.14 L449.60 407.74 L449.75 409.15 L449.90 407.77 L450.05 409.16 L450.20 407.79 L450.35 409.17 L450.50 407.82 L450.65 409.18 L450.80 407.85 L450.95 409.19 L451.10 407.87 L451.25 409.20 L451.40 407.90 L451.55 409.21 L451.70 407.93 L451.85 409.22 L452.00 407.95 L452.15 409.70 L452.30 407.40 L452.45 406.65 L452.60 405.90 L452.75 405.14 L452.90 404.39 L453.05 403.63 L453.20 402.86 L453.35 402.08 L453.50 401.29 L453.65 400.48 L453.80 408.00 L453.95 408.20 L454.10 338.49 L454.25 355.99 L454.40 339.99 L454.56 355.99 L454.71 344.99 L454.86 126.01 L455.01 126.31 L455.16 126.81 L455.31 127.51 L455.46 128.51 L455.61 358.49 L455.76 379.97 L455.91 375.49 L456.06 380.04 L456.21 363.10 L456.36 380.03 L456.51 369.39 L456.66 380.29 L456.81 379.18 L456.96 381.09 L457.11 380.47 L457.26 383.49 L457.41 381.54 L457.56 386.81 L457.71 385.64 L457.86 393.42 L458.01 388.61 L458.16 395.05 L458.31 390.70 L458.46 397.56 L458.61 390.89 L458.76 399.70 L458.91 391.06 L459.06 402.29 L459.21 391.28 L459.36 402.12 L459.52 390.84 L459.67 402.96 L459.82 390.94 L459.97 403.45 L460.12 390.12 L460.27 404.16 L460.42 390.09 L460.57 404.72 L460.72 389.92 L460.87 404.51 L461.02 389.45 L461.17 404.55 L461.32 389.13 L461.47 404.24 L461.62 387.58 L461.77 404.15 L461.92 382.09 L462.07 404.17 L462.22 377.22 L462.37 404.35 L462.52 387.65 L462.67 404.73 L462.82 399.47 L462.97 404.97 L463.12 403.48 L463.27 405.13 L463.42 404.13 L463.57 405.43 L463.72 404.76 L463.87 406.20 L464.02 405.08 L464.17 407.06 L464.32 405.36 L464.48 408.02 L464.63 405.64 L464.78 409.81 L464.93 405.88 L465.08 409.94 L465.23 406.22 L465.38 409.95 L465.53 406.67 L465.68 409.96 L465.83 407.14 L465.98 409.96 L466.13 407.57 L466.28 409.96 L466.43 408.00 L466.58 409.96 L466.73 408.23 L466.88 409.96 L467.03 408.33 L467.18 409.96 L467.33 408.38 L467.48 409.96 L467.63 408.43 L467.78 409.96 L467.93 408.48 L468.08 409.96 L468.23 408.53 L468.38 409.96 L468.53 408.58 L468.68 409.96 L468.83 408.63 L468.98 409.96 L469.13 408.64 L469.28 409.96 L469.44 408.64 L469.59 409.96 L469.74 408.64 L469.89 409.96 L470.04 408.64 L470.19 409.96 L470.34 408.64 L470.49 409.96 L470.64 408.64 L470.79 409.96 L470.94 408.64 L471.09 409.96 L471.24 408.64 L471.39 409.96 L471.54 408.64 L471.69 409.96 L471.84 408.64 L471.99 409.96 L472.14 408.64 L472.29 409.96 L472.44 408.64 L472.59 409.96 L472.74 408.64 L472.89 409.96 L473.04 408.64 L473.19 409.96 L473.34 408.64 L473.49 409.96 L473.64 408.64 L473.79 409.96 L473.94 408.64 L474.09 409.96 L474.24 408.64 L474.40 409.96 L474.55 408.64 L474.70 409.96 L474.85 408.64 L475.00 409.96 L475.15 408.64 L475.30 409.96 L475.45 408.64 L475.60 409.96 L475.75 408.64 L475.90 409.96 L476.05 408.64 L476.20 409.96 L476.35 408.64 L476.50 409.96 L476.65 408.64 L476.80 409.96 L476.95 408.64 L477.10 409.96 L477.25 408.64 L477.40 409.96 L477.55 408.64 L477.70 409.96 L477.85 408.64 L478.00 409.96 L478.15 408.64 L478.30 409.96 L478.45 408.64 L478.60 409.96 L478.75 408.64 L478.90 409.96 L479.05 408.64 L479.20 409.96 L479.36 408.64 L479.51 409.96 L479.66 408.64 L479.81 409.96 L479.96 408.64 L480.11 409.96 L480.26 408.64 L480.41 409.96 L480.56 408.65 L480.71 409.96 L480.86 408.65 L481.01 409.96 L481.16 408.66 L481.31 409.96 L481.46 408.66 L481.61 409.96 L481.76 408.67 L481.91 409.96 L482.06 408.68 L482.21 409.96 L482.36 408.68 L482.51 409.96 L482.66 408.69 L482.81 409.96 L482.96 408.69 L483.11 409.96 L483.26 408.70 L483.41 409.96 L483.56 408.71 L483.71 409.96 L483.86 408.71 L484.01 409.96 L484.16 408.72 L484.32 409.96 L484.47 408.73 L484.62 409.96 L484.77 408.73 L484.92 409.96 L485.07 408.74 L485.22 409.96 L485.37 408.74 L485.52 409.96 L485.67 408.75 L485.82 409.96 L485.97 408.76 L486.12 409.96 L486.27 408.76 L486.42 409.96 L486.57 408.77 L486.72 409.96 L486.87 408.77 L487.02 409.96 L487.17 408.78 L487.32 409.96 L487.47 408.79 L487.62 409.96 L487.77 408.79 L487.92 409.96 L488.07 408.80 L488.22 409.96 L488.37 408.81 L488.52 409.96 L488.67 408.81 L488.82 409.96 L488.97 408.82 L489.12 409.96 L489.28 408.82 L489.43 409.96 L489.58 408.83 L489.73 409.96 L489.88 408.84 L490.03 409.96 L490.18 408.84 L490.33 409.96 L490.48 408.85 L490.63 409.96 L490.78 408.85 L490.93 409.96 L491.08 408.86 L491.23 409.96 L491.38 408.87 L491.53 409.96 L491.68 408.87 L491.83 409.96 L491.98 408.88 L492.13 409.96 L492.28 408.89 L492.43 409.96 L492.58 408.89 L492.73 409.96 L492.88 408.90 L493.03 409.96 L493.18 408.90 L493.33 409.96 L493.48 408.91 L493.63 409.96 L493.78 408.92 L493.93 409.96 L494.08 408.92 L494.24 409.96 L494.39 408.93 L494.54 409.96 L494.69 408.94 L494.84 409.96 L494.99 408.94 L495.14 409.96 L495.29 408.95 L495.44 409.96 L495.59 408.95 L495.74 409.96 L495.89 408.96 L496.04 409.96 L496.19 408.97 L496.34 409.96 L496.49 408.97 L496.64 409.96 L496.79 408.98 L496.94 409.96 L497.09 408.98 L497.24 409.96 L497.39 408.99 L497.54 409.96 L497.69 409.00 L497.84 409.96 L497.99 409.00 L498.14 409.96 L498.29 409.01 L498.44 409.96 L498.59 409.02 L498.74 409.96 L498.89 409.02 L499.04 409.96 L499.20 409.03 L499.35 409.96 L499.50 409.03 L499.65 409.96 L499.80 409.04 L499.95 409.96 L500.10 409.07 L500.25 409.96 L500.40 409.09 L500.55 409.96 L500.70 409.12 L500.85 409.96 L501.00 409.14 L501.15 409.96 L501.30 409.17 L501.45 409.96 L501.60 409.19 L501.75 409.96 L501.90 409.22 L502.05 409.96 L502.20 409.24 L502.35 409.96 L502.50 409.27 L502.65 409.96 L502.80 409.29 L502.95 409.96 L503.10 409.32 L503.25 409.96 L503.40 409.34 L503.55 409.96 L503.70 409.37 L503.85 409.96 L504.00 409.39 L504.16 409.96 L504.31 409.42 L504.46 409.96 L504.61 409.44 L504.76 409.96 L504.91 409.39 L505.06 409.96 L505.21 409.24 L505.36 409.96 L505.51 408.92 L505.66 409.96 L505.81 408.48 L505.96 409.96 L506.11 408.05 L506.26 409.96 L506.41 407.64 L506.56 409.96 L506.71 407.31 L506.86 409.96 L507.01 407.03 L507.16 409.96 L507.31 406.97 L507.46 409.96 L507.61 406.91 L507.76 409.95 L507.91 406.84 L508.06 409.95 L508.21 406.78 L508.36 409.97 L508.51 406.71 L508.66 409.97 L508.81 406.60 L508.96 409.96 L509.12 406.36 L509.27 409.96 L509.42 402.24 L509.57 409.97 L509.72 402.46 L509.87 409.90 L510.02 402.86 L510.17 409.98 L510.32 403.25 L510.47 409.97 L510.62 403.50 L510.77 410.23 L510.92 403.64 L511.07 409.97 L511.22 403.58 L511.37 409.94 L511.52 403.61 L511.67 409.71 L511.82 403.23 L511.97 409.57 L512.12 402.96 L512.27 409.76 L512.42 403.02 L512.57 410.06 L512.72 403.10 L512.87 410.06 L513.02 403.16 L513.17 410.08 L513.32 403.37 L513.47 409.92 L513.62 403.68 L513.77 409.93 L513.92 403.76 L514.08 409.95 L514.23 403.99 L514.38 409.94 L514.53 404.22 L514.68 410.09 L514.83 404.30 L514.98 410.24 L515.13 404.40 L515.28 410.00 L515.43 404.39 L515.58 409.98 L515.73 404.50 L515.88 409.95 L516.03 404.29 L516.18 409.76 L516.33 404.11 L516.48 409.98 L516.63 403.88 L516.78 409.78 L516.93 404.02 L517.08 409.97 L517.23 404.16 L517.38 409.89 L517.53 404.23 L517.68 410.02 L517.83 404.18 L517.98 409.94 L518.13 404.29 L518.28 410.11 L518.43 404.15 L518.58 410.10 L518.73 404.13 L518.88 410.02 L519.04 404.10 L519.19 410.13 L519.34 404.01 L519.49 410.04 L519.64 403.70 L519.79 410.09 L519.94 403.77 L520.09 410.06 L520.24 403.87 L520.39 410.03 L520.54 404.28 L520.69 410.11 L520.84 404.57 L520.99 409.99 L521.14 404.76 L521.29 410.05 L521.44 404.89 L521.59 410.13 L521.74 404.80 L521.89 410.05 L522.04 404.85 L522.19 410.18 L522.34 404.87 L522.49 410.16 L522.64 404.78 L522.79 410.14 L522.94 404.75 L523.09 410.10 L523.24 404.66 L523.39 410.07 L523.54 404.56 L523.69 410.08 L523.84 404.40 L524.00 410.01 L524.15 404.36 L524.30 409.95 L524.45 404.42 L524.60 409.99 L524.75 404.08 L524.90 410.11 L525.05 404.05 L525.20 410.11 L525.35 403.96 L525.50 410.06 L525.65 404.09 L525.80 410.07 L525.95 404.43 L526.10 410.16 L526.25 404.76 L526.40 410.09 L526.55 405.07 L526.70 410.07 L526.85 405.36 L527.00 409.94 L527.15 405.58 L527.30 409.95 L527.45 405.71 L527.60 409.89 L527.75 405.74 L527.90 409.89 L528.05 405.80 L528.20 409.97 L528.35 405.78 L528.50 409.97 L528.65 405.85 L528.80 410.00 L528.96 405.78 L529.11 410.00 L529.26 405.76 L529.41 410.00 L529.56 405.72 L529.71 409.99 L529.86 405.64 L530.01 410.01 L530.16 405.47 L530.31 409.93 L530.46 405.25 L530.61 410.05 L530.76 405.17 L530.91 409.94 L531.06 404.92 L531.21 409.94 L531.36 404.71 L531.51 409.88 L531.66 404.65 L531.81 409.81 L531.96 404.56 L532.11 409.77 L532.26 404.47 L532.41 409.79 L532.56 404.38 L532.71 409.82 L532.86 404.71 L533.01 409.85 L533.16 405.18 L533.31 409.91 L533.46 405.49 L533.61 409.95 L533.76 405.92 L533.92 409.97 L534.07 406.17 L534.22 410.02 L534.37 406.25 L534.52 410.01 L534.67 406.30 L534.82 409.98 L534.97 406.26 L535.12 409.97 L535.27 406.25 L535.42 410.00 L535.57 406.31 L535.72 409.98 L535.87 406.30 L536.02 409.99 L536.17 406.30 L536.32 409.95 L536.47 406.28 L536.62 409.95 L536.77 406.18 L536.92 409.92 L537.07 406.10 L537.22 409.93 L537.37 406.04 L537.52 409.91 L537.67 405.97 L537.82 409.91 L537.97 405.90 L538.12 409.95 L538.27 405.86 L538.42 409.98 L538.57 405.84 L538.72 409.95 L538.88 405.79 L539.03 409.89 L539.18 405.79 L539.33 409.88 L539.48 405.77 L539.63 409.89 L539.78 405.73 L539.93 409.86 L540.08 405.76 L540.23 409.90 L540.38 405.75 L540.53 409.86 L540.68 405.76 L540.83 409.84 L540.98 405.72 L541.13 409.89 L541.28 405.66 L541.43 409.95 L541.58 405.72 L541.73 409.97 L541.88 405.66 L542.03 410.01 L542.18 405.61 L542.33 410.03 L542.48 405.58 L542.63 409.93 L542.78 405.58 L542.93 409.98 L543.08 405.75 L543.23 409.90 L543.38 405.96 L543.53 409.93 L543.68 406.15 L543.84 409.96 L543.99 406.36 L544.14 409.98 L544.29 406.55 L544.44 409.98 L544.59 406.70 L544.74 409.98 L544.89 406.73 L545.04 409.97 L545.19 406.70 L545.34 409.97 L545.49 406.59 L545.64 409.97 L545.79 406.52 L545.94 409.97 L546.09 406.43 L546.24 409.93 L546.39 406.40 L546.54 409.93 L546.69 406.29 L546.84 409.96 L546.99 406.35 L547.14 409.98 L547.29 406.39 L547.44 409.99 L547.59 406.47 L547.74 409.98 L547.89 406.53 L548.04 409.95 L548.19 406.61 L548.34 409.96 L548.49 406.69 L548.64 409.94 L548.80 406.77 L548.95 409.95 L549.10 406.83 L549.25 409.95 L549.40 406.91 L549.55 409.96 L549.70 406.98 L549.85 409.96 L550.00 407.05 L550.15 409.96 L550.30 407.12 L550.45 409.96 L550.60 407.20 L550.75 409.96 L550.90 407.28 L551.05 409.96 L551.20 407.36 L551.35 409.96 L551.50 407.44 L551.65 409.96 L551.80 407.52 L551.95 409.96 L552.10 407.73 L552.25 409.96 L552.40 408.01 L552.55 409.96 L552.70 408.28 L552.85 409.96 L553.00 408.51 L553.15 409.96 L553.30 408.62 L553.45 409.96" clip-path="url(#c)" fill="none" stroke="#1f77b4" stroke-width="2.0833" stroke-linejoin="round" stroke-linecap="square"/>
<path d="M80.5 427.5 L80.5 58.5 M576.5 427.5 L576.5 58.5 M80.5 427.5 L576.5 427.5 M80.5 58.5 L576.5 58.5" fill="none" stroke="#000" stroke-width="1.1111" stroke-linecap="square" stroke-linejoin="miter"/>
<path d="M80 57h497v1H80z M80 59h497v1H80z M80 426h497v1H80z M80 428h497v1H80z" fill="#000" fill-opacity="0.055"/>
<path d="M103.5 427.5 L103.5 432.5 M178.5 427.5 L178.5 432.5 M253.5 427.5 L253.5 432.5 M328.5 427.5 L328.5 432.5 M403.5 427.5 L403.5 432.5 M478.5 427.5 L478.5 432.5 M553.5 427.5 L553.5 432.5 M80.5 410.5 L75.5 410.5 M80.5 333.5 L75.5 333.5 M80.5 255.5 L75.5 255.5 M80.5 178.5 L75.5 178.5 M80.5 100.5 L75.5 100.5" fill="none" stroke="#000" stroke-width="1.1111"/>
<text x="103.175" y="447.9" text-anchor="middle" style="font-family:'DejaVu Sans',sans-serif;font-size:13.8889px">0</text>
<text x="177.397" y="447.9" text-anchor="middle" style="font-family:'DejaVu Sans',sans-serif;font-size:13.8889px">500</text>
<text x="252.848" y="447.9" text-anchor="middle" style="font-family:'DejaVu Sans',sans-serif;font-size:13.8889px">1000</text>
<text x="327.700" y="447.9" text-anchor="middle" style="font-family:'DejaVu Sans',sans-serif;font-size:13.8889px">1500</text>
<text x="403.152" y="447.9" text-anchor="middle" style="font-family:'DejaVu Sans',sans-serif;font-size:13.8889px">2000</text>
<text x="478.303" y="447.9" text-anchor="middle" style="font-family:'DejaVu Sans',sans-serif;font-size:13.8889px">2500</text>
<text x="552.815" y="447.9" text-anchor="middle" style="font-family:'DejaVu Sans',sans-serif;font-size:13.8889px">3000</text>
<text x="70.278" y="415.677" text-anchor="end" style="font-family:'DejaVu Sans',sans-serif;font-size:13.8889px">0.0</text>
<text x="70.278" y="338.168" text-anchor="end" style="font-family:'DejaVu Sans',sans-serif;font-size:13.8889px">0.2</text>
<text x="70.278" y="260.659" text-anchor="end" style="font-family:'DejaVu Sans',sans-serif;font-size:13.8889px">0.4</text>
<text x="70.278" y="183.151" text-anchor="end" style="font-family:'DejaVu Sans',sans-serif;font-size:13.8889px">0.6</text>
<text x="70.278" y="105.642" text-anchor="end" style="font-family:'DejaVu Sans',sans-serif;font-size:13.8889px">0.8</text>
<rect x="458.5" y="65.5" width="111" height="25" rx="2.778" ry="2.778" fill="#fff" fill-opacity="0.8" stroke="#cccccc" stroke-opacity="0.8" stroke-width="1.3889"/>
<rect x="462" y="75" width="30" height="2" fill="#1f77b4"/>
<text x="500.956" y="80.653" style="font-family:'DejaVu Sans',sans-serif;font-size:13.8889px">Jdet Loss</text>
</svg>
</body></html>
